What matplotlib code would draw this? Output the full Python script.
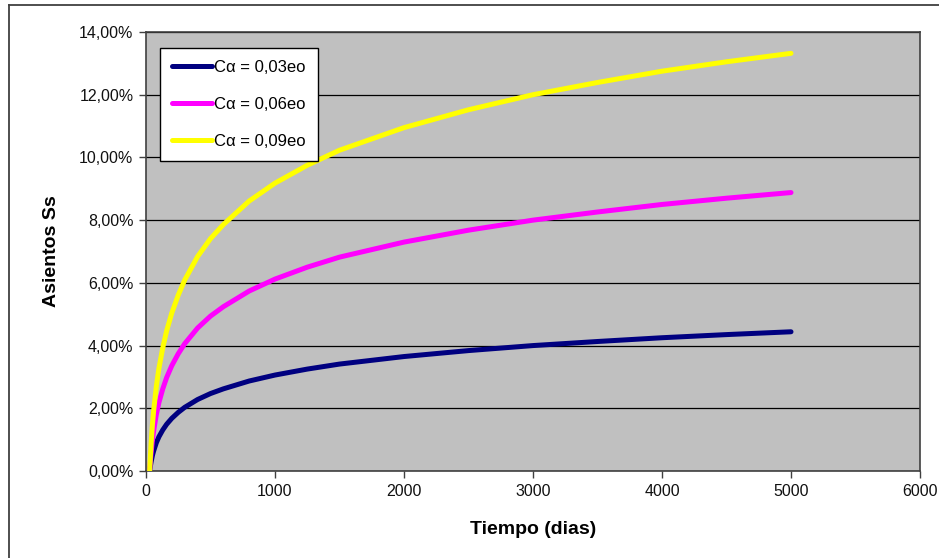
import matplotlib
matplotlib.use("Agg")
import matplotlib.pyplot as plt
from matplotlib.lines import Line2D
from matplotlib.ticker import FuncFormatter, MultipleLocator

plt.rcParams['font.family'] = ['Liberation Sans', 'DejaVu Sans']

# Time (days)
tiempo = [28, 30, 40, 50, 60, 80, 100, 130, 160, 200, 250, 300, 400, 500, 600,
          800, 1000, 1250, 1500, 2000, 2500, 3000, 3500, 4000, 4500, 5000]

# Secondary settlement Ss (%) for each C-alpha
ss_003 = [0.00, 0.06, 0.30, 0.50, 0.65, 0.90, 1.09, 1.31, 1.49, 1.68, 1.87, 2.03,
          2.28, 2.47, 2.62, 2.87, 3.06, 3.25, 3.41, 3.65, 3.84, 4.00, 4.13, 4.25,
          4.35, 4.44]
ss_006 = [0.00, 0.12, 0.60, 1.00, 1.30, 1.80, 2.18, 2.62, 2.98, 3.36, 3.74, 4.06,
          4.56, 4.94, 5.24, 5.74, 6.12, 6.50, 6.82, 7.30, 7.68, 8.00, 8.26, 8.50,
          8.70, 8.88]
ss_009 = [0.00, 0.18, 0.90, 1.50, 1.95, 2.70, 3.27, 3.93, 4.47, 5.04, 5.61, 6.09,
          6.84, 7.41, 7.86, 8.61, 9.18, 9.75, 10.23, 10.95, 11.52, 12.00, 12.39,
          12.75, 13.05, 13.32]

series_labels = ["C\u03b1 = 0,03eo", "C\u03b1 = 0,06eo", "C\u03b1 = 0,09eo"]
series_colors = ["#000080", "#FF00FF", "#FFFF00"]

fig = plt.figure(figsize=(9.39, 5.58), dpi=100)
ax = fig.add_axes([146 / 939, 1 - 471 / 558, (920 - 146) / 939, (471 - 32) / 558])
ax.set_facecolor("#C0C0C0")

for ys, lab, col in zip([ss_003, ss_006, ss_009], series_labels, series_colors):
    ax.plot(tiempo, ys, color=col, lw=3.6, label=lab,
            solid_capstyle='round', solid_joinstyle='round', zorder=3)

ax.set_xlim(0, 6000)
ax.set_ylim(0, 14)
ax.xaxis.set_major_locator(MultipleLocator(1000))
ax.yaxis.set_major_locator(MultipleLocator(2))
ax.yaxis.set_major_formatter(FuncFormatter(lambda v, p: f"{v:.2f}%".replace(".", ",")))

ax.grid(axis='y', color='black', lw=0.9, zorder=1)
ax.set_axisbelow(True)
for s in ax.spines.values():
    s.set_color("#404040")
    s.set_linewidth(1.2)
ax.tick_params(axis='both', direction='out', length=5, width=1, color="#404040",
               labelsize=11.5, labelcolor="#111111", pad=4)

ax.set_xlabel("Tiempo (dias)", fontsize=14, fontweight='bold', labelpad=16)
ax.set_ylabel("Asientos Ss", fontsize=14, fontweight='bold', labelpad=14)

leg = ax.legend(loc='upper left', bbox_to_anchor=(0.018, 0.964), borderaxespad=0,
                fontsize=12, frameon=True, fancybox=False, framealpha=1,
                edgecolor='black', handlelength=2.4, handletextpad=0.1,
                labelspacing=1.3, borderpad=0.75)
leg.get_frame().set_linewidth(1.0)

# Chart area border (left and top edges)
fig.add_artist(Line2D([9 / 939, 9 / 939], [0, 1 - 5 / 558], transform=fig.transFigure,
                      color="#404040", lw=1.3))
fig.add_artist(Line2D([9 / 939, 1], [1 - 5 / 558, 1 - 5 / 558], transform=fig.transFigure,
                      color="#404040", lw=1.3))

fig.savefig("out.png", dpi=100)
